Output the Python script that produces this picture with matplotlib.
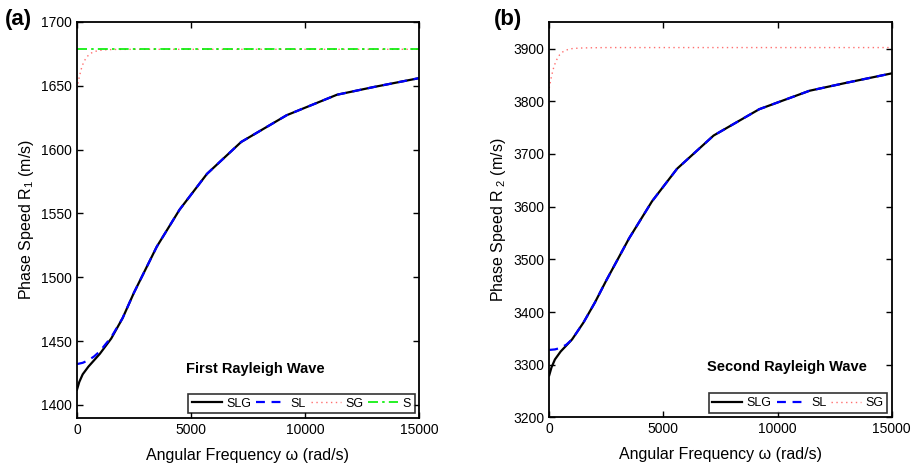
import matplotlib
matplotlib.use("Agg")
import matplotlib.pyplot as plt

plt.rcParams['font.family'] = ['Liberation Sans', 'DejaVu Sans']
plt.rcParams['mathtext.default'] = 'regular'

# ---- panel (a): first Rayleigh wave ----
w_slg_a = [0, 100, 250, 500, 1000, 1500, 2000, 2500, 3500, 4500, 5700, 7200, 9200, 11400, 13000, 15000]
slg_a = [1412, 1418, 1424, 1430, 1440, 1452, 1468, 1488, 1524, 1553, 1581, 1606, 1627, 1643, 1649, 1656]
w_sl_a = [0, 250, 500, 750, 1000, 1500, 2000, 2500, 3500, 4500, 5700, 7200, 9200, 11400, 13000, 15000]
sl_a = [1432, 1433, 1435, 1438, 1442, 1453, 1468, 1488, 1524, 1553, 1581, 1606, 1627, 1643, 1649, 1656]
w_sg = [0, 100, 200, 300, 450, 600, 800, 1000, 1300, 1700, 2500, 5000, 10000, 15000]
sg_a = [1648, 1657, 1664, 1669, 1673, 1675.5, 1677, 1677.8, 1678.3, 1678.5, 1678.6, 1678.6, 1678.6, 1678.6]
w_s = [0, 15000]
s_a = [1679, 1679]

# ---- panel (b): second Rayleigh wave ----
w_slg_b = [0, 100, 250, 500, 1000, 1500, 2000, 2500, 3500, 4500, 5600, 7200, 9200, 11400, 13000, 15000]
slg_b = [3280, 3295, 3310, 3325, 3348, 3380, 3418, 3460, 3540, 3610, 3672, 3735, 3785, 3820, 3835, 3853]
w_sl_b = [0, 250, 500, 750, 1000, 1500, 2000, 2500, 3500, 4500, 5600, 7200, 9200, 11400, 13000, 15000]
sl_b = [3328, 3329, 3332, 3338, 3348, 3380, 3418, 3460, 3540, 3610, 3672, 3735, 3785, 3820, 3835, 3853]
sg_b = [3825, 3848, 3865, 3877, 3888, 3894, 3898, 3900, 3901, 3901.5, 3902, 3902, 3902, 3902]

fig = plt.figure(figsize=(9.2, 4.69), dpi=100)
ax1 = fig.add_axes([0.0837, 0.1094, 0.3717, 0.8437])
ax2 = fig.add_axes([0.597, 0.1101, 0.3722, 0.8424])

leg_kw = dict(loc='lower right', fontsize=9, frameon=True, fancybox=False,
              edgecolor='black', handlelength=2.4, handletextpad=0.35, columnspacing=0.4,
              borderpad=0.3, borderaxespad=0.35)

ax1.plot(w_slg_a, slg_a, color='black', lw=1.6, label='SLG')
ax1.plot(w_sl_a, sl_a, color='blue', lw=1.6, ls=(0, (4, 3)), label='SL')
ax1.plot(w_sg, sg_a, color='#ff6f6f', lw=1.0, ls=(0, (1, 2.5)), label='SG')
ax1.plot(w_s, s_a, color='#00ee00', lw=1.2, ls=(0, (6, 2.5, 1.5, 2.5)), label='S')
ax1.set_ylim(1390, 1700)
ax1.set_yticks([1400, 1450, 1500, 1550, 1600, 1650, 1700])
ax1.set_ylabel('Phase Speed R$_1$ (m/s)', fontsize=11.5)
ax1.text(4800, 1428, 'First Rayleigh Wave', fontsize=10.5, fontweight='bold', va='center')
ax1.legend(ncol=4, **leg_kw).get_frame().set_linewidth(1.2)

ax2.plot(w_slg_b, slg_b, color='black', lw=1.6, label='SLG')
ax2.plot(w_sl_b, sl_b, color='blue', lw=1.6, ls=(0, (4, 3)), label='SL')
ax2.plot(w_sg, sg_b, color='#ff6f6f', lw=1.0, ls=(0, (1, 2.5)), label='SG')
ax2.set_ylim(3200, 3950)
ax2.set_yticks([3200, 3300, 3400, 3500, 3600, 3700, 3800, 3900])
ax2.set_ylabel('Phase Speed R$_{\\ 2}$ (m/s)', fontsize=11.5)
ax2.text(6900, 3295, 'Second Rayleigh Wave', fontsize=10.5, fontweight='bold', va='center')
ax2.legend(ncol=3, **leg_kw).get_frame().set_linewidth(1.2)

for ax in (ax1, ax2):
    ax.set_xlim(0, 15000)
    ax.set_xticks([0, 5000, 10000, 15000])
    ax.set_xlabel('Angular Frequency ω (rad/s)', fontsize=11.5, labelpad=8)
    ax.tick_params(direction='in', top=True, right=True, labelsize=10, length=4, width=1)
    for sp in ax.spines.values():
        sp.set_linewidth(1.3)

fig.text(0.005, 0.958, '(a)', fontsize=16, fontweight='bold', va='center')
fig.text(0.537, 0.958, '(b)', fontsize=16, fontweight='bold', va='center')

fig.savefig('out.png', dpi=100)
